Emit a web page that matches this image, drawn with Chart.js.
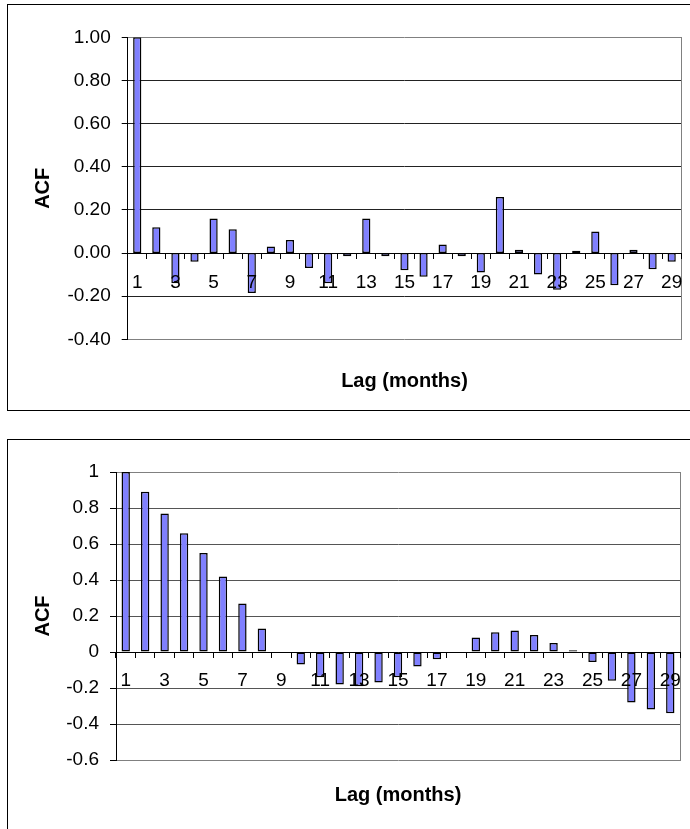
<!DOCTYPE html>
<html><head><meta charset="utf-8">
<script src="https://cdn.jsdelivr.net/npm/chart.js@4/dist/chart.umd.min.js"></script>
<style>
html,body{margin:0;padding:0;background:#fff;overflow:hidden;width:690px;height:829px;}
.box{position:absolute;border:1px solid #000;background:#fff;}
#b1{left:7px;top:4px;width:688px;height:405px;}
#b2{left:7px;top:439px;width:688px;height:398px;}
canvas{display:block;}
</style></head><body>
<div class="box" id="b1"><canvas id="c1" width="688" height="405"></canvas></div>
<div class="box" id="b2"><canvas id="c2" width="688" height="398"></canvas></div>
<script>
// Categories: lag in months
const lags = ['1','2','3','4','5','6','7','8','9','10','11','12','13','14','15','16','17','18','19','20','21','22','23','24','25','26','27','28','29'];
// Top chart ACF values
const acfTop = [1.00, 0.12, -0.14, -0.04, 0.16, 0.11, -0.185, 0.03, 0.06, -0.07, -0.14, -0.015, 0.16, -0.015, -0.08, -0.11, 0.04, -0.015, -0.09, 0.26, 0.015, -0.10, -0.17, 0.01, 0.10, -0.15, 0.015, -0.075, -0.04];
// Bottom chart ACF values
const acfBottom = [1.00, 0.89, 0.77, 0.66, 0.55, 0.42, 0.27, 0.13, 0.0, -0.07, -0.14, -0.18, -0.19, -0.17, -0.14, -0.08, -0.04, -0.005, 0.08, 0.11, 0.12, 0.095, 0.05, 0.01, -0.055, -0.16, -0.28, -0.32, -0.34];
// Y tick ranges
const topYTicks = [-0.4, -0.2, 0.0, 0.2, 0.4, 0.6, 0.8, 1.0];
const bottomYTicks = [-0.6, -0.4, -0.2, 0, 0.2, 0.4, 0.6, 0.8, 1];
const xTitle = 'Lag (months)';
const yTitle = 'ACF';

const FONT = 'Liberation Sans, Arial, sans-serif';

function makeChart(id, values, yTicks, fmt, geo) {
  const yMin = yTicks[0], yMax = yTicks[yTicks.length - 1];
  const step = Math.round((yTicks[1] - yTicks[0]) * 10) / 10;
  return new Chart(document.getElementById(id), {
    type: 'bar',
    data: {
      labels: lags,
      datasets: [{
        data: values,
        backgroundColor: 'rgb(128,128,255)',
        borderColor: '#000',
        borderWidth: 1.5,
        borderSkipped: false,
        inflateAmount: 0,
        barPercentage: 0.43,
        categoryPercentage: 1.0
      }]
    },
    options: {
      responsive: false,
      animation: false,
      devicePixelRatio: 1,
      layout: { padding: { top: geo.top, left: 0, right: 0, bottom: 0 } },
      plugins: { legend: { display: false }, tooltip: { enabled: false }, title: { display: false } },
      scales: {
        x: {
          type: 'category',
          position: { y: 0 },
          offset: true,
          grid: { display: true, drawOnChartArea: false, drawTicks: true, tickLength: 5, tickColor: '#000', offset: true, z: 1 },
          border: { display: true, color: '#000', width: 1, z: 1 },
          ticks: {
            z: 2,
            autoSkip: false, maxRotation: 0, minRotation: 0,
            padding: geo.xPad,
            color: '#000',
            font: { family: FONT, size: 19 },
            callback: function (v, i) { return i % 2 === 0 ? lags[i] : ''; }
          }
        },
        x2: {
          type: 'category',
          labels: lags,
          position: 'bottom',
          grid: { display: false, drawTicks: false },
          border: { display: false },
          ticks: { display: false },
          title: { display: true, text: xTitle, color: '#000', font: { family: FONT, size: 20, weight: 'bold' }, padding: { top: 0, bottom: geo.xTitlePad } },
          afterFit: function (s) { s.height = geo.xh; }
        },
        y: {
          type: 'linear',
          position: 'left',
          min: yMin, max: yMax,
          grid: {
            color: function (c) { return (c.tick && (Math.abs(c.tick.value - yMax) < 1e-6 || Math.abs(c.tick.value - yMin) < 1e-6)) ? '#808080' : geo.grid; },
            tickColor: '#000', tickLength: 6, drawTicks: true, lineWidth: 1
          },
          border: { display: true, color: '#000', width: 1 },
          ticks: {
            stepSize: step, padding: geo.yPad, color: '#000',
            font: { family: FONT, size: 19 },
            callback: function (v) { return fmt(v); }
          },
          title: { display: true, text: yTitle, color: '#000', font: { family: FONT, size: 20, weight: 'bold' }, padding: { top: geo.yTitlePad, bottom: 0 } },
          afterFit: function (s) { s.width = geo.left; }
        },
        y2: {
          type: 'linear',
          position: 'right',
          grid: { drawOnChartArea: false, drawTicks: false },
          border: { display: true, color: '#808080', width: 1 },
          ticks: { display: false },
          afterFit: function (s) { s.width = geo.right; }
        }
      }
    }
  });
}

makeChart('c1', acfTop, topYTicks, function (v) { return (Math.round(v * 100) / 100).toFixed(2); },
  { top: 32.3, left: 119.7, right: 11, xh: 70.7, xPad: 13.5, yPad: 11, xTitlePad: 17, yTitlePad: 23, grid: '#222' });
makeChart('c2', acfBottom, bottomYTicks, function (v) { return String(Math.round(v * 10) / 10); },
  { top: 32, left: 108, right: 16, xh: 78, xPad: 12.5, yPad: 11, xTitlePad: 31, yTitlePad: 23, grid: '#555' });
</script>
</body></html>
